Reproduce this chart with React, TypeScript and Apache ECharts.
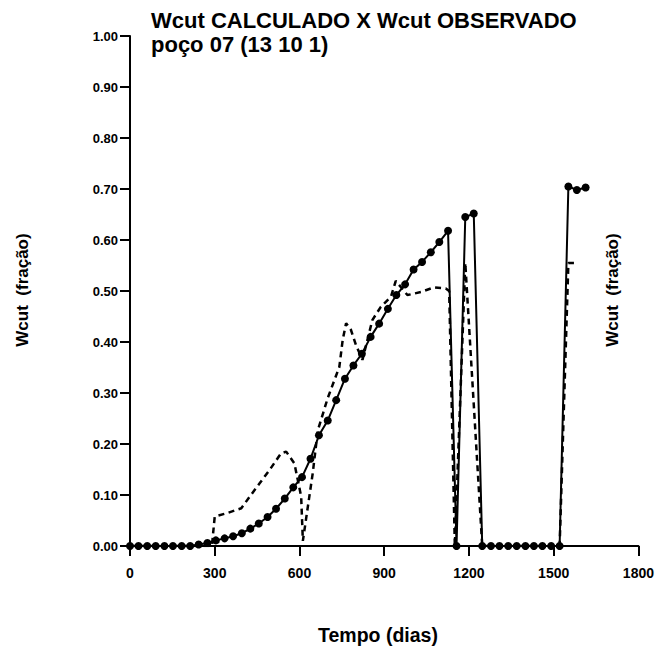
import React, { useEffect, useRef } from 'react';
import * as echarts from 'echarts';

const titleLines = ['Wcut CALCULADO X Wcut OBSERVADO', 'poço 07 (13 10 1)'];
const xAxisName = 'Tempo (dias)';
const yAxisName = 'Wcut  (fração)';
const xTicks = [0, 300, 600, 900, 1200, 1500, 1800];
const yTicks = [0, 0.1, 0.2, 0.3, 0.4, 0.5, 0.6, 0.7, 0.8, 0.9, 1.0];

// Wcut calculado (solid line with dots)
const calcDays = [0, 30, 61, 91, 122, 152, 183, 213, 243, 274, 304, 335, 365, 396, 426, 456, 487, 517, 548, 578, 609, 639, 669, 700, 730, 761, 791, 821, 852, 882, 913, 943, 974, 1004, 1034, 1065, 1095, 1126, 1156, 1187, 1217, 1247, 1278, 1308, 1339, 1369, 1400, 1430, 1460, 1491, 1521, 1552, 1582, 1613];
const calcWcut = [0, 0, 0, 0, 0, 0, 0, 0, 0.003, 0.006, 0.011, 0.015, 0.019, 0.025, 0.034, 0.044, 0.057, 0.073, 0.093, 0.115, 0.135, 0.171, 0.217, 0.246, 0.286, 0.328, 0.354, 0.377, 0.41, 0.436, 0.465, 0.492, 0.513, 0.542, 0.557, 0.576, 0.596, 0.618, 0, 0.645, 0.652, 0, 0, 0, 0, 0, 0, 0, 0, 0, 0, 0.705, 0.698, 0.703];

// Wcut observado (dashed line)
const obsDays = [0, 290, 300, 341, 394, 424, 459, 494, 535, 553, 582, 606, 612, 647, 665, 700, 741, 753, 765, 782, 800, 823, 858, 888, 924, 941, 982, 1030, 1076, 1118, 1130, 1150, 1187, 1247, 1521, 1552, 1580];
const obsWcut = [0, 0, 0.058, 0.064, 0.074, 0.097, 0.123, 0.149, 0.182, 0.185, 0.162, 0.097, 0.01, 0.143, 0.227, 0.29, 0.351, 0.404, 0.437, 0.424, 0.394, 0.365, 0.443, 0.469, 0.489, 0.52, 0.492, 0.498, 0.507, 0.505, 0.5, 0, 0.555, 0, 0, 0.555, 0.555];

const FONT = '"Liberation Sans", Arial, Helvetica, sans-serif';

export default function App() {
  const ref = useRef<HTMLDivElement>(null);

  useEffect(() => {
    if (!ref.current) return;
    const chart = echarts.init(ref.current, undefined, { renderer: 'svg' });
    const calcData = calcDays.map((d, i) => [d, calcWcut[i]]);
    const obsData = obsDays.map((d, i) => [d, obsWcut[i]]);
    chart.setOption({
      animation: false,
      backgroundColor: '#ffffff',
      title: {
        text: titleLines.join('\n'),
        left: 146,
        top: 3,
        textStyle: { fontFamily: FONT, fontSize: 22, fontWeight: 'bold', color: '#000', lineHeight: 24 },
      },
      grid: { left: 130, top: 36, width: 510, height: 510, containLabel: false },
      xAxis: {
        type: 'value',
        min: xTicks[0],
        max: xTicks[xTicks.length - 1],
        interval: 300,
        axisLine: { show: true, onZero: false, lineStyle: { color: '#000', width: 2 } },
        axisTick: { show: true, inside: false, length: 10, lineStyle: { color: '#000', width: 2 } },
        axisLabel: {
          margin: 20,
          color: '#000',
          fontFamily: FONT,
          fontSize: 14,
          fontWeight: 'bold',
          formatter: (v: number) => String(v),
        },
        splitLine: { show: false },
      },
      yAxis: {
        type: 'value',
        min: yTicks[0],
        max: yTicks[yTicks.length - 1],
        interval: 0.1,
        axisLine: { show: true, onZero: false, lineStyle: { color: '#000', width: 2 } },
        axisTick: { show: true, inside: false, length: 10, lineStyle: { color: '#000', width: 2 } },
        axisLabel: {
          margin: 12,
          color: '#000',
          fontFamily: FONT,
          fontSize: 13,
          fontWeight: 'bold',
          formatter: (v: number) => v.toFixed(2),
        },
        splitLine: { show: false },
      },
      graphic: [
        {
          type: 'text',
          x: 378,
          y: 635,
          style: { text: xAxisName, fontFamily: FONT, fontSize: 19.5, fontWeight: 'bold', fill: '#000', align: 'center', verticalAlign: 'middle' },
        },
        {
          type: 'text',
          x: 22,
          y: 290,
          rotation: Math.PI / 2,
          style: { text: yAxisName, fontFamily: FONT, fontSize: 17, fontWeight: 'bold', fill: '#000', align: 'center', verticalAlign: 'middle' },
        },
        {
          type: 'text',
          x: 612,
          y: 290,
          rotation: Math.PI / 2,
          style: { text: yAxisName, fontFamily: FONT, fontSize: 17, fontWeight: 'bold', fill: '#000', align: 'center', verticalAlign: 'middle' },
        },
      ],
      series: [
        {
          name: 'Wcut OBSERVADO',
          type: 'line',
          data: obsData,
          showSymbol: false,
          symbol: 'none',
          lineStyle: { color: '#000', width: 2.5, type: [6, 4.5] },
          z: 2,
        },
        {
          name: 'Wcut CALCULADO',
          type: 'line',
          data: calcData,
          symbol: 'circle',
          symbolSize: 8,
          itemStyle: { color: '#000' },
          lineStyle: { color: '#000', width: 2 },
          z: 3,
        },
      ],
    });
    return () => chart.dispose();
  }, []);

  return (
    <div
      ref={ref}
      style={{ position: 'absolute', left: 0, top: 0, width: 657, height: 656, background: '#fff' }}
    />
  );
}
